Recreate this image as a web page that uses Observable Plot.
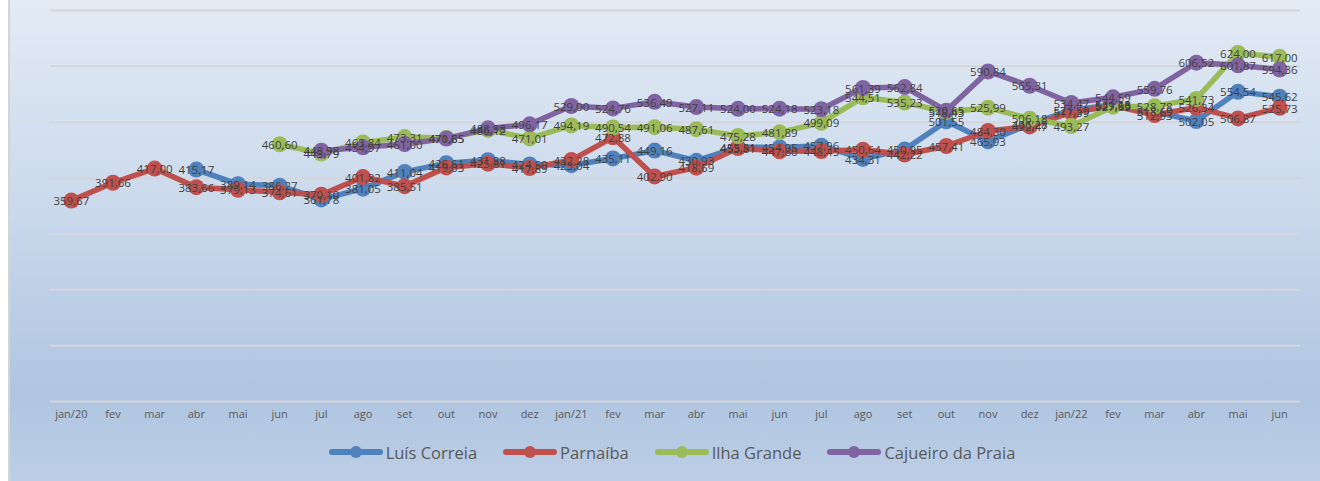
<!DOCTYPE html>
<html>
<head>
<meta charset="utf-8">
<script src="https://cdn.jsdelivr.net/npm/d3@7"></script>
<script src="https://cdn.jsdelivr.net/npm/@observablehq/plot@0.6"></script>
<style>
  html, body { margin: 0; padding: 0; background: #ffffff; }
  #wrap {
    position: absolute; left: 8px; top: 0; width: 1312px; height: 481px;
    border-left: 2px solid #d4d4d4; box-sizing: border-box;
    background: linear-gradient(180deg, #e3ebf5 0%, #c9d8eb 45%, #afc5e0 82%, #bccee6 100%);
    overflow: hidden;
  }
  #chart { position: absolute; left: -10px; top: 0; }
  #legend {
    position: absolute; left: 2px; top: 437px; width: 1320px; height: 30px;
    display: flex; justify-content: center; align-items: center; gap: 0;
    font-family: "Open Sans", sans-serif; font-size: 16.5px; color: #595959;
  }
  .item { display: flex; align-items: center; margin: 0 13px; }
  .sw { position: relative; width: 54px; height: 6px; border-radius: 3px; margin-right: 3px; }
  .sw::after { content: ""; position: absolute; left: 21px; top: -3px; width: 12px; height: 12px; border-radius: 6px; background: inherit; }
</style>
</head>
<body>
<div id="wrap"><div id="chart"></div><div id="legend"></div></div>
<script>
const monthLabels = ["jan/20","fev","mar","abr","mai","jun","jul","ago","set","out","nov","dez",
  "jan/21","fev","mar","abr","mai","jun","jul","ago","set","out","nov","dez",
  "jan/22","fev","mar","abr","mai","jun"];
const seriesNames = ["Luís Correia","Parnaíba","Ilha Grande","Cajueiro da Praia"];
const seriesColors = ["#4f81bd","#c0504d","#9bbb59","#8064a2"];
const luisCorreia = [null,null,null,415.17,389.14,386.27,361.78,381.05,411.04,426.61,431.88,424.50,
  423.04,435.11,449.16,430.93,455.51,454.95,457.96,434.31,450.95,501.55,465.93,496.28,
  521.59,531.18,518.69,502.05,554.54,545.62];
const parnaiba = [359.67,391.66,417.00,383.66,379.13,374.61,370.10,401.82,385.51,419.03,425.81,417.89,
  432.28,472.88,402.90,418.69,453.81,447.80,448.45,450.64,442.22,457.41,484.30,492.47,
  517.39,529.63,512.93,526.34,506.87,525.73];
const ilhaGrande = [null,null,null,null,null,460.60,443.79,463.84,473.31,471.85,486.12,471.01,
  494.19,490.54,491.06,487.61,475.28,481.89,499.09,544.51,535.23,518.43,525.99,506.18,
  493.27,527.89,528.78,541.73,624.00,617.00];
const cajueiro = [null,null,null,null,null,null,448.98,454.97,461.00,470.65,488.98,496.17,
  529.00,524.76,536.49,527.11,524.00,524.18,523.18,561.39,562.84,520.65,590.84,565.31,
  534.47,544.59,559.76,606.52,601.87,594.36];
const yTicks = [0,100,200,300,400,500,600,700];

const allSeries = [luisCorreia, parnaiba, ilhaGrande, cajueiro];
const rows = [];
allSeries.forEach((arr, s) => arr.forEach((v, i) => {
  if (v != null) rows.push({i, v, s: seriesNames[s]});
}));
const fmt = v => d3.format(".2f")(v).replace(".", ",");
const idx = d3.range(monthLabels.length);

const marks = [
  Plot.ruleY(yTicks, {stroke: "#d3d6da", strokeWidth: 2}),
  Plot.axisX({tickSize: 0, tickPadding: 9, fontSize: 11, fill: "#595959", label: null,
    tickFormat: i => monthLabels[i], fontFamily: "Open Sans, sans-serif"})
];
seriesNames.forEach((name, s) => {
  const data = rows.filter(d => d.s === name);
  marks.push(Plot.line(data, {x: "i", y: "v", stroke: seriesColors[s], strokeWidth: 5.5, strokeLinejoin: "round"}));
  marks.push(Plot.dot(data, {x: "i", y: "v", r: 8, fill: seriesColors[s], stroke: "none"}));
});
marks.push(Plot.text(rows, {x: "i", y: "v", text: d => fmt(d.v), fill: "#404040", fontSize: 11.5,
  fontFamily: "Open Sans, sans-serif", dy: 1}));

const chart = Plot.plot({
  width: 1320, height: 430,
  marginLeft: 50, marginRight: 20, marginTop: 10, marginBottom: 29,
  style: {background: "transparent", overflow: "visible"},
  x: {type: "point", domain: idx, padding: 0.5, round: false, axis: null, label: null},
  y: {domain: [0, 700], axis: null},
  marks
});
document.getElementById("chart").appendChild(chart);

const legend = document.getElementById("legend");
seriesNames.forEach((name, s) => {
  const it = document.createElement("div"); it.className = "item";
  const sw = document.createElement("span"); sw.className = "sw"; sw.style.background = seriesColors[s];
  const t = document.createElement("span"); t.textContent = name;
  it.appendChild(sw); it.appendChild(t); legend.appendChild(it);
});
</script>
</body>
</html>
